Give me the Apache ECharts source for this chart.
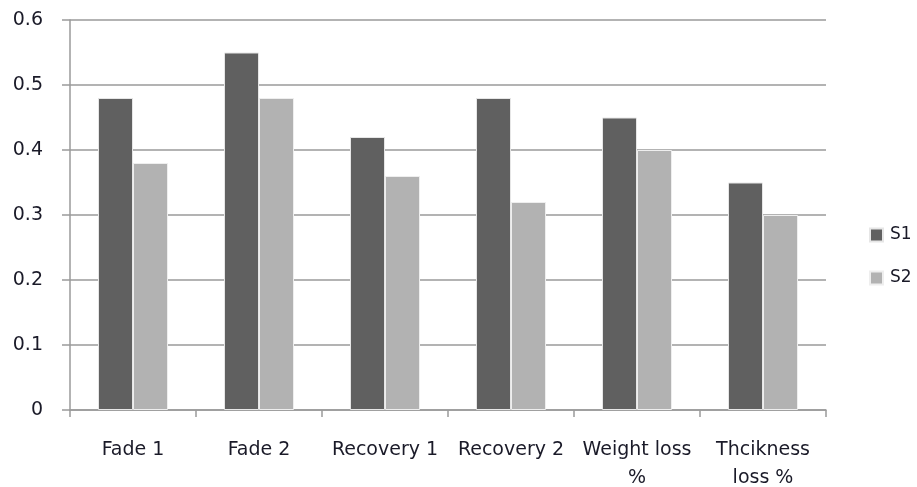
<!DOCTYPE html>
<html>
<head>
<meta charset="utf-8">
<script src="https://cdn.jsdelivr.net/npm/echarts@6/dist/echarts.min.js"></script>
<style>
  html, body { margin: 0; padding: 0; background: #ffffff; }
  #chart { width: 917px; height: 487px; }
</style>
</head>
<body>
<div id="chart"></div>
<script>
// Category labels (line breaks as shown on the axis)
const categories = ['Fade 1', 'Fade 2', 'Recovery 1', 'Recovery 2', 'Weight loss\n%', 'Thcikness\nloss %'];
// Series values
const s1Values = [0.48, 0.55, 0.42, 0.48, 0.45, 0.35];
const s2Values = [0.38, 0.48, 0.36, 0.32, 0.40, 0.30];
// Value axis range
const yMin = 0;
const yMax = 0.6;
const yStep = 0.1;

const textColor = '#1a1a28';
const fontFamily = '"DejaVu Sans", "Liberation Sans", sans-serif';

const chart = echarts.init(document.getElementById('chart'), null, { renderer: 'canvas' });
chart.setOption({
  animation: false,
  backgroundColor: '#ffffff',
  grid: { left: 70, right: 91, top: 20, bottom: 77, outerBoundsMode: 'none', containLabel: false },
  legend: {
    orient: 'vertical',
    left: 869,
    top: 226,
    padding: 0,
    itemWidth: 13,
    itemHeight: 13,
    itemGap: 25,
    icon: 'rect',
    textStyle: { color: textColor, fontSize: 17, lineHeight: 18, fontFamily: fontFamily, padding: [0, 0, 0, 2] },
    data: ['S1', 'S2']
  },
  xAxis: {
    type: 'category',
    data: categories,
    axisLine: { lineStyle: { color: '#9a9a9a', width: 1.5 } },
    axisTick: { show: true, alignWithLabel: false, length: 7, lineStyle: { color: '#9a9a9a', width: 1.5 } },
    axisLabel: {
      color: textColor,
      fontSize: 19,
      fontFamily: fontFamily,
      margin: 26,
      lineHeight: 28,
      interval: 0
    },
    splitLine: { show: false }
  },
  yAxis: {
    type: 'value',
    min: yMin,
    max: yMax,
    interval: yStep,
    axisLine: { show: true, lineStyle: { color: '#9a9a9a', width: 1.5 } },
    axisTick: { show: true, length: 8, lineStyle: { color: '#9a9a9a', width: 1.5 } },
    axisLabel: {
      color: textColor,
      fontSize: 19,
      fontFamily: fontFamily,
      margin: 27,
      formatter: v => (Math.round(v * 10) / 10).toString()
    },
    splitLine: { show: true, lineStyle: { color: '#9a9a9a', width: 1.5 } }
  },
  series: [
    {
      name: 'S1',
      type: 'bar',
      data: s1Values,
      barWidth: 35,
      barGap: '0%',
      itemStyle: { color: '#606060', borderColor: '#e6e6e6', borderWidth: 1 }
    },
    {
      name: 'S2',
      type: 'bar',
      data: s2Values,
      barWidth: 35,
      barGap: '0%',
      itemStyle: { color: '#b2b2b2', borderColor: '#eeeeee', borderWidth: 1 }
    }
  ]
});
</script>
</body>
</html>
